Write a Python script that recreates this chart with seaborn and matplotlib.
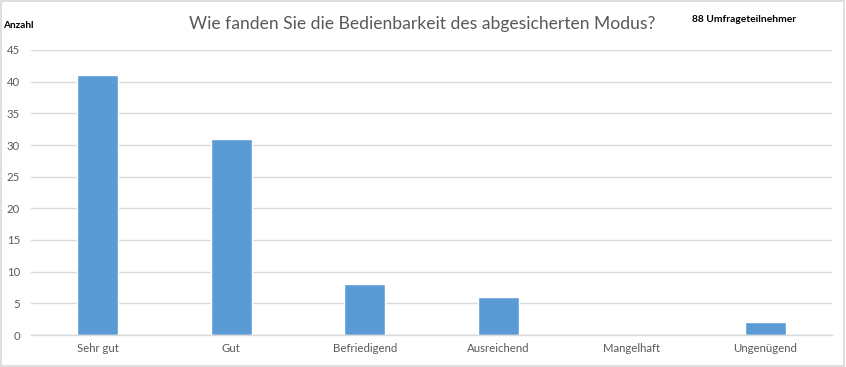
import numpy as np
import pandas as pd
import seaborn as sns
import matplotlib.pyplot as plt
from matplotlib.patches import Rectangle

# data
categories = ["Sehr gut", "Gut", "Befriedigend", "Ausreichend", "Mangelhaft", "Ungenügend"]
counts = [41, 31, 8, 6, 0, 2]
yticks = [0, 5, 10, 15, 20, 25, 30, 35, 40, 45]

df = pd.DataFrame({"Note": categories, "Anzahl": counts})

sns.set_theme(style="white")
plt.rcParams["font.family"] = ["Lato", "DejaVu Sans"]

fig = plt.figure(figsize=(8.46, 3.67), dpi=100)
ax = fig.add_axes([31 / 846, 1 - 335 / 367, 801 / 846, 285 / 367])

sns.barplot(data=df, x="Note", y="Anzahl", color="#5B9BD5", width=0.31,
            saturation=1, ax=ax)

ax.set_ylim(0, 45)
ax.set_yticks(yticks)
ax.set_xlim(-0.5, len(categories) - 0.5)
ax.grid(axis="y", color="#D9D9D9", linewidth=1)
ax.set_axisbelow(True)
for s in ["top", "right", "left"]:
    ax.spines[s].set_visible(False)
ax.spines["bottom"].set_color("#D9D9D9")
ax.spines["bottom"].set_linewidth(1)
ax.set_xlabel("")
ax.set_ylabel("")
ax.tick_params(axis="both", length=0, labelsize=8.2, colors="#595959")
ax.tick_params(axis="y", pad=8)
ax.tick_params(axis="x", pad=6)

fig.text(422 / 846, 1 - 24 / 367, "Wie fanden Sie die Bedienbarkeit des abgesicherten Modus?",
         ha="center", va="center", fontsize=12.6, color="#595959")
fig.text(3 / 846, 1 - 25 / 367, "Anzahl", ha="left", va="center",
         fontsize=7.2, fontweight="bold", color="black")
fig.text(692 / 846, 1 - 20 / 367, "88 Umfrageteilnehmer", ha="left", va="center",
         fontsize=7.4, fontweight="bold", color="black")

# chart border
fig.patches.append(Rectangle((0.001, 0.002), 0.997, 0.995, transform=fig.transFigure,
                             fill=False, edgecolor="#D9D9D9", linewidth=1.2))

fig.savefig("out.png", dpi=100)
